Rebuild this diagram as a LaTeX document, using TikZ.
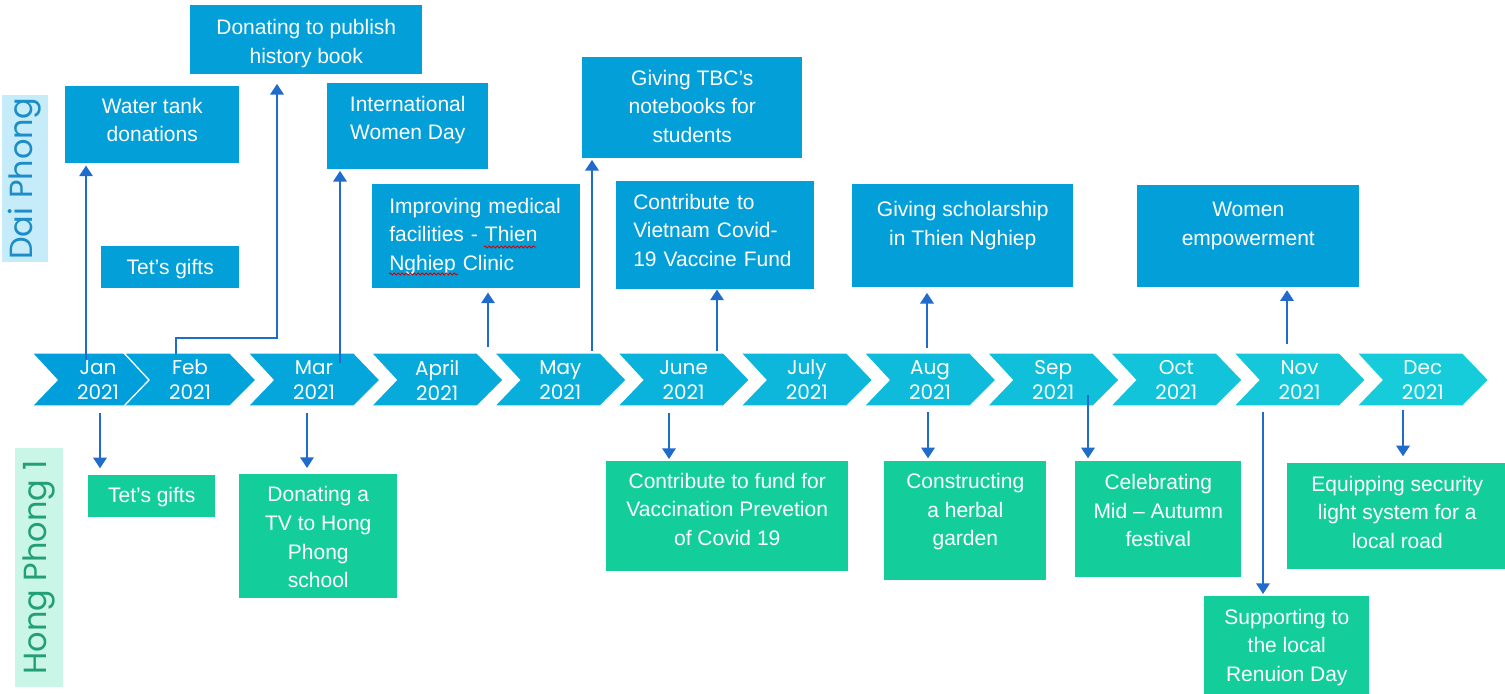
\documentclass[tikz,border=0pt]{standalone}
\usepackage{fontspec}
\setmainfont{Liberation Sans}
\newfontfamily\gothic{Poppins}
\usetikzlibrary{arrows.meta,decorations.pathmorphing,calc}
\definecolor{boxblue}{RGB}{3,159,216}
\definecolor{boxgreen}{RGB}{19,206,155}
\definecolor{arrowblue}{RGB}{31,108,204}
\definecolor{lblblue}{RGB}{198,235,249}
\definecolor{txtblue}{RGB}{27,141,199}
\definecolor{lblgreen}{RGB}{201,246,230}
\definecolor{txtgreen}{RGB}{33,160,118}
\definecolor{chevA}{RGB}{0,158,219}
\definecolor{chevB}{RGB}{22,204,218}
% box with its text: name, fill style, x, y (top-left, px), w, h, text dy (px), extra text options, text
\newcommand\eventbox[9]{%
  \node[#2, minimum width=#5*0.75pt, minimum height=#6*0.75pt] (#1) at (#3,#4) {};
  \node[boxtext, #8] (#1-t) at ($(#1.center)+(0,#7)$) {#9};
}
\begin{document}
\begin{tikzpicture}[x=0.75pt,y=-0.75pt,
  evbox/.style={anchor=north west, inner sep=0pt},
  bbox/.style={evbox, fill=boxblue},
  gbox/.style={evbox, fill=boxgreen},
  boxtext/.style={inner sep=0pt, text=white, align=center,
    font=\fontsize{15.75}{21.4}\selectfont},
  mon/.style={text=white, align=center, inner sep=0pt,
    font=\gothic\fontsize{15}{18.75}\selectfont},
  side/.style={rotate=90, inner sep=0pt, font=\gothic\fontsize{24}{28}\selectfont},
  arr/.style={draw=arrowblue, line width=1.6pt, -{Triangle[width=10pt,length=8pt]}},
  squig/.style={draw=red!85!black, line width=0.6pt, decorate,
    decoration={snake, amplitude=0.8pt, segment length=3pt}}
]
\useasboundingbox (0,0) rectangle (1505,693);

% side labels
\node[side, fill=lblblue, text=txtblue, minimum width=167*0.75pt, minimum height=46*0.75pt] (dp) at (25,178.5) {Dai Phong};
\node[side, fill=lblgreen, text=txtgreen, minimum width=239*0.75pt, minimum height=48*0.75pt] (hp) at (39,567.5) {Hong Phong 1};

% chevrons
\foreach \L/\k/\t in {32/0/Jan, 124/1/Feb, 248/2/Mar, 371.2/3/April, 494.4/4/May, 617.6/5/June,
  740.8/6/July, 864/7/Aug, 987.2/8/Sep, 1110.4/9/Oct, 1233.6/10/Nov, 1356.8/11/Dec} {
  \pgfmathsetmacro{\p}{\k/11*100}
  \fill[chevB!\p!chevA, draw=white, line width=1pt]
    (\L,353) -- ({\L+106},353) -- ({\L+132},380) -- ({\L+106},406) -- (\L,406) -- ({\L+25},380) -- cycle;
  \node[mon] (m\k) at ({\L+66},380) {\t\\2021};
}

% Dai Phong boxes
\eventbox{wt}{bbox}{65}{86}{174}{77}{-5}{}{Water tank\\donations}
\eventbox{tg1}{bbox}{101}{246}{138}{42}{2}{}{Tet’s gifts}
\eventbox{hb}{bbox}{190}{5}{232}{69}{4}{}{Donating to publish\\history book}
\eventbox{iw}{bbox}{327}{83}{161}{86}{-6}{}{International\\Women Day}
\eventbox{im}{bbox}{372}{184}{208}{104}{0}{align=left, text width=174*0.75pt}{Improving medical\\facilities - Thien\\Nghiep Clinic}
\eventbox{tbc}{bbox}{582}{57}{220}{101}{-1.5}{}{Giving TBC’s\\notebooks for\\students}
\eventbox{cv}{bbox}{616}{181}{198}{108}{-5}{align=left, text width=164*0.75pt}{Contribute to\\Vietnam Covid-\\19 Vaccine Fund}
\eventbox{gs}{bbox}{852}{184}{221}{103}{-10}{}{Giving scholarship\\in Thien Nghiep}
\eventbox{we}{bbox}{1137}{185}{222}{102}{-10.5}{}{Women\\empowerment}

% spell-check marks
\draw[squig] (484,247) -- (536,247);
\draw[squig] (389,274) -- (458,274);

% Hong Phong boxes
\eventbox{tg2}{gbox}{88}{475}{127}{42}{1}{}{Tet’s gifts}
\eventbox{tv}{gbox}{239}{474}{158}{124}{1}{}{Donating a\\TV to Hong\\Phong\\school}
\eventbox{cf}{gbox}{606}{461}{242}{110}{-7}{}{Contribute to fund for\\Vaccination Prevetion\\of Covid 19}
\eventbox{hg}{gbox}{884}{461}{162}{119}{-9}{}{Constructing\\a herbal\\garden}
\eventbox{ma}{gbox}{1075}{461}{166}{116}{-8.5}{}{Celebrating\\Mid – Autumn\\festival}
\eventbox{rd}{gbox}{1204}{596}{165}{100}{1}{}{Supporting to\\the local\\Renuion Day}
\eventbox{ls}{gbox}{1287}{463}{220}{106}{-4}{}{Equipping security\\light system for a\\local road}

% connector start points
\coordinate (janU) at (86,360);
\coordinate (febU) at (176,354);
\coordinate (febK) at (277,338);
\coordinate (marU) at (340,363);
\coordinate (aprU) at (488,347);
\coordinate (mayU) at (592,351);
\coordinate (junU) at (717,351);
\coordinate (augU) at (927,348);
\coordinate (novU) at (1287,344);
\coordinate (janD) at (100,413);
\coordinate (marD) at (307,413);
\coordinate (junD) at (669,413);
\coordinate (augD) at (928,412);
\coordinate (sepD) at (1088,395);
\coordinate (novD) at (1263,412);
\coordinate (decD) at (1403,410);

% upward connectors
\draw[arr, shorten >=1.5pt] (janU) -- (janU |- wt.south);
\draw[arr, shorten >=7pt, line join=miter] (febU) |- (febK) -- (febK |- hb.south);
\draw[arr, shorten >=1pt] (marU) -- (marU |- iw.south);
\draw[arr, shorten >=3pt] (aprU) -- (aprU |- im.south);
\draw[arr, shorten >=1pt] (mayU) -- (mayU |- tbc.south);
\draw[arr] (junU) -- (junU |- cv.south);
\draw[arr, shorten >=4pt] (augU) -- (augU |- gs.south);
\draw[arr, shorten >=2pt] (novU) -- (novU |- we.south);

% downward connectors
\draw[arr, shorten >=5pt] (janD) -- (janD |- tg2.north);
\draw[arr, shorten >=4.5pt] (marD) -- (marD |- tv.north);
\draw[arr, shorten >=1.5pt] (junD) -- (junD |- cf.north);
\draw[arr, shorten >=2pt] (augD) -- (augD |- hg.north);
\draw[arr, shorten >=2pt] (sepD) -- (sepD |- ma.north);
\draw[arr, shorten >=1.5pt] (novD) -- (novD |- rd.north);
\draw[arr, shorten >=5pt] (decD) -- (decD |- ls.north);
\end{tikzpicture}
\end{document}
